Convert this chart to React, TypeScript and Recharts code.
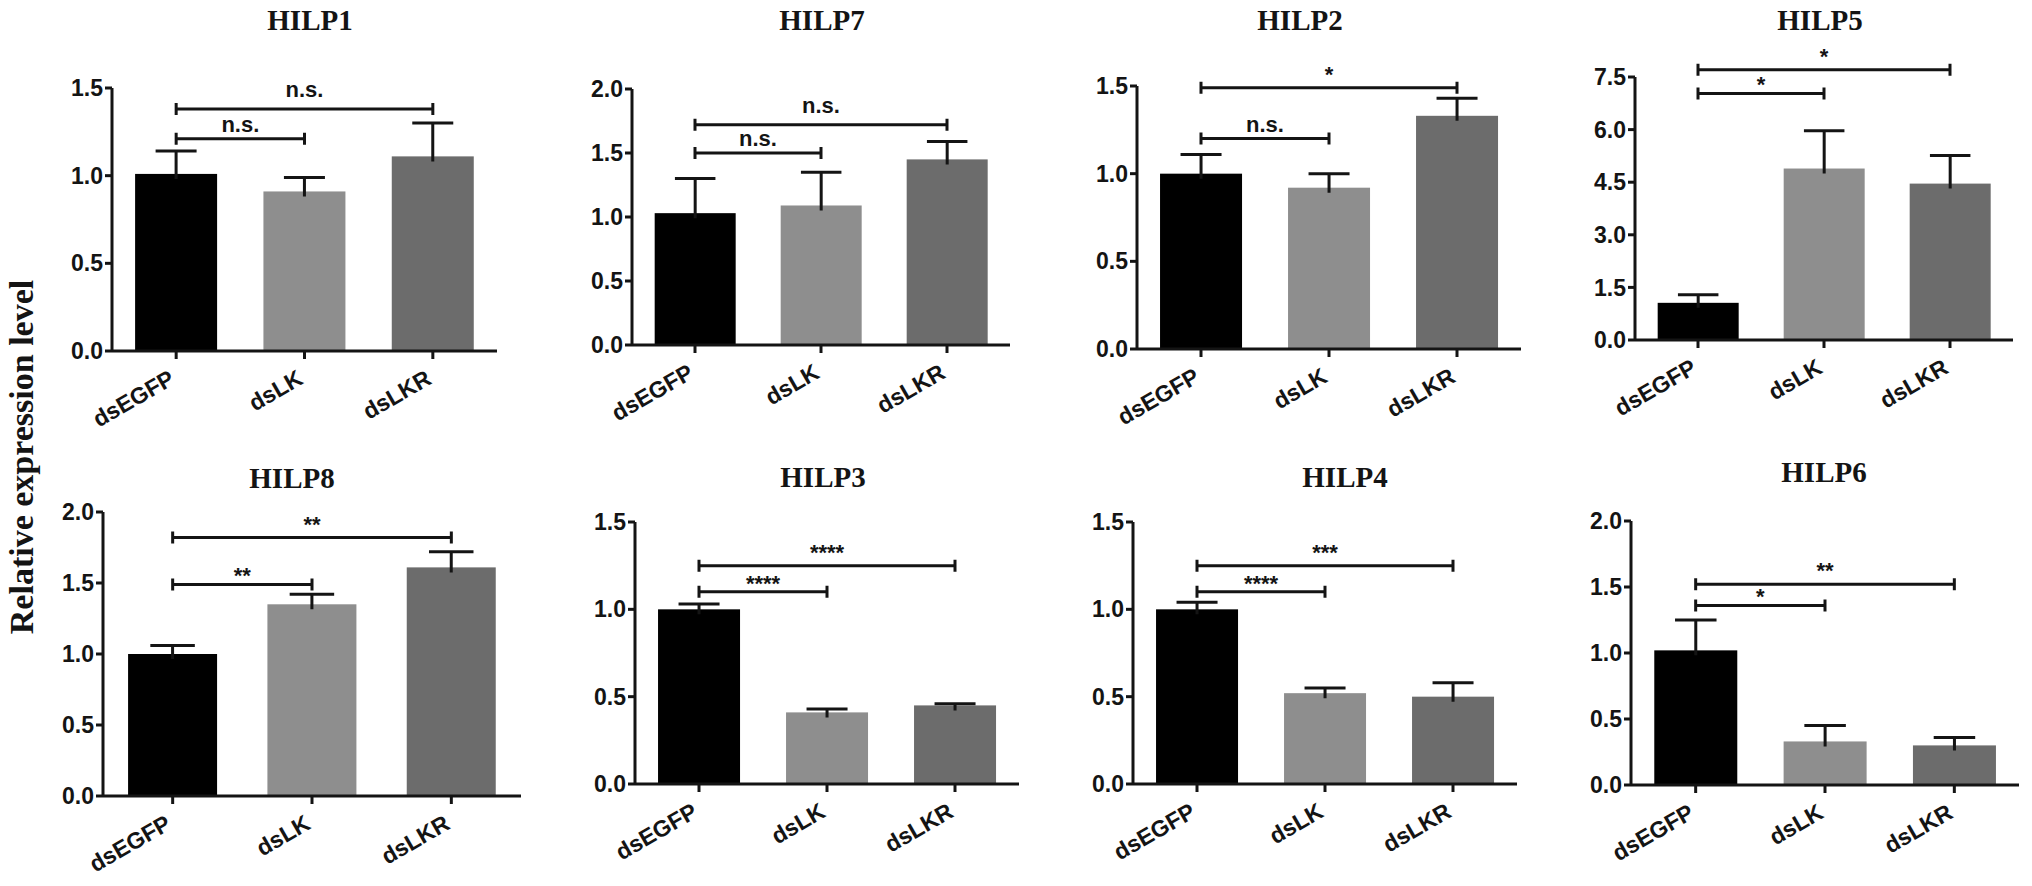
import React from 'react';
import { BarChart, Bar, XAxis, YAxis, ReferenceLine } from 'recharts';

// ---------- data ----------
const CATEGORIES = ['dsEGFP', 'dsLK', 'dsLKR'];
const TITLES = ['HILP1', 'HILP7', 'HILP2', 'HILP5', 'HILP8', 'HILP3', 'HILP4', 'HILP6'];
const Y_LABEL = 'Relative expression level';

const HILP1_MEAN = [1.01, 0.91, 1.11];
const HILP1_SEM = [0.13, 0.08, 0.19];
const HILP7_MEAN = [1.03, 1.09, 1.45];
const HILP7_SEM = [0.27, 0.26, 0.14];
const HILP2_MEAN = [1.0, 0.92, 1.33];
const HILP2_SEM = [0.11, 0.08, 0.1];
const HILP5_MEAN = [1.06, 4.89, 4.46];
const HILP5_SEM = [0.23, 1.08, 0.8];
const HILP8_MEAN = [1.0, 1.35, 1.61];
const HILP8_SEM = [0.06, 0.07, 0.11];
const HILP3_MEAN = [1.0, 0.41, 0.45];
const HILP3_SEM = [0.03, 0.02, 0.01];
const HILP4_MEAN = [1.0, 0.52, 0.5];
const HILP4_SEM = [0.04, 0.03, 0.08];
const HILP6_MEAN = [1.02, 0.33, 0.3];
const HILP6_SEM = [0.23, 0.12, 0.06];

const TICKS_15 = [0, 0.5, 1.0, 1.5];
const TICKS_20 = [0, 0.5, 1.0, 1.5, 2.0];
const TICKS_75 = [0, 1.5, 3.0, 4.5, 6.0, 7.5];

const HILP1_SIG = [
  { from: 'dsEGFP', to: 'dsLK', y: 1.21, label: 'n.s.' },
  { from: 'dsEGFP', to: 'dsLKR', y: 1.38, label: 'n.s.' },
];
const HILP7_SIG = [
  { from: 'dsEGFP', to: 'dsLK', y: 1.5, label: 'n.s.' },
  { from: 'dsEGFP', to: 'dsLKR', y: 1.72, label: 'n.s.' },
];
const HILP2_SIG = [
  { from: 'dsEGFP', to: 'dsLK', y: 1.2, label: 'n.s.' },
  { from: 'dsEGFP', to: 'dsLKR', y: 1.49, label: '*' },
];
const HILP5_SIG = [
  { from: 'dsEGFP', to: 'dsLK', y: 7.03, label: '*' },
  { from: 'dsEGFP', to: 'dsLKR', y: 7.71, label: '*' },
];
const HILP8_SIG = [
  { from: 'dsEGFP', to: 'dsLK', y: 1.49, label: '**' },
  { from: 'dsEGFP', to: 'dsLKR', y: 1.82, label: '**' },
];
const HILP3_SIG = [
  { from: 'dsEGFP', to: 'dsLK', y: 1.1, label: '****' },
  { from: 'dsEGFP', to: 'dsLKR', y: 1.25, label: '****' },
];
const HILP4_SIG = [
  { from: 'dsEGFP', to: 'dsLK', y: 1.1, label: '****' },
  { from: 'dsEGFP', to: 'dsLKR', y: 1.25, label: '***' },
];
const HILP6_SIG = [
  { from: 'dsEGFP', to: 'dsLK', y: 1.36, label: '*' },
  { from: 'dsEGFP', to: 'dsLKR', y: 1.52, label: '**' },
];

const MEANS = [HILP1_MEAN, HILP7_MEAN, HILP2_MEAN, HILP5_MEAN, HILP8_MEAN, HILP3_MEAN, HILP4_MEAN, HILP6_MEAN];
const SEMS = [HILP1_SEM, HILP7_SEM, HILP2_SEM, HILP5_SEM, HILP8_SEM, HILP3_SEM, HILP4_SEM, HILP6_SEM];
const TICKS = [TICKS_15, TICKS_20, TICKS_15, TICKS_75, TICKS_20, TICKS_15, TICKS_15, TICKS_20];
const SIGS = [HILP1_SIG, HILP7_SIG, HILP2_SIG, HILP5_SIG, HILP8_SIG, HILP3_SIG, HILP4_SIG, HILP6_SIG];

// ---------- layout & style ----------
const LAYOUT = [
  { L: 112, R: 497, T: 88, B: 351, tx: 310, ty: 30 },
  { L: 632, R: 1010, T: 89, B: 345, tx: 822, ty: 30 },
  { L: 1137, R: 1521, T: 86, B: 349, tx: 1300, ty: 30 },
  { L: 1635, R: 2013, T: 77, B: 340, tx: 1820, ty: 30 },
  { L: 103, R: 521, T: 512, B: 796, tx: 292, ty: 488 },
  { L: 635, R: 1019, T: 522, B: 784, tx: 823, ty: 487 },
  { L: 1133, R: 1517, T: 522, B: 784, tx: 1345, ty: 487 },
  { L: 1631, R: 2019, T: 521, B: 785, tx: 1824, ty: 482 },
];
const COLORS = ['#000000', '#8e8e8e', '#6c6c6c'];
const INK = '#141414';
const SANS = '"Liberation Sans", Arial, sans-serif';
const SERIF = '"Liberation Serif", "Times New Roman", serif';
const YW = 70;
const MT = 50;
const MR = 10;
const XH = 90;

const BarWithError = (props: any) => {
  const { x, y, width, height, payload, index } = props;
  const mean = payload.mean;
  const px = mean > 0 ? height / mean : 0;
  const top = y - payload.err * px;
  const cx = x + width / 2;
  const cap = width / 4;
  return (
    <g>
      <rect x={x} y={y} width={width} height={height} fill={COLORS[index % COLORS.length]} />
      <path
        d={`M${cx},${y + 5}V${top}M${cx - cap},${top}H${cx + cap}`}
        stroke={INK}
        strokeWidth={3}
        fill="none"
      />
    </g>
  );
};

const makeBracket = (label: string, long: boolean) => (p: any) => {
  const x1 = Number(p.x1);
  const x2 = Number(p.x2);
  const y = Number(p.y1);
  const star = label.indexOf('*') >= 0;
  const off = long ? 18 : 13;
  const base = y - off + (star ? 12 : 6);
  return (
    <g>
      <path
        d={`M${x1},${y - 6}V${y + 6}M${x1},${y}H${x2}M${x2},${y - 6}V${y + 6}`}
        stroke={INK}
        strokeWidth={3}
        fill="none"
      />
      <text x={(x1 + x2) / 2} y={base} textAnchor="middle" fontFamily={SANS} fontWeight={700} fontSize={22} fill={INK}>
        {label}
      </text>
    </g>
  );
};

const XTick = (props: any) => {
  const { x, y, payload } = props;
  const ax = Number(x);
  const ay = Number(y) + 24;
  return (
    <text
      x={ax}
      y={ay}
      transform={`rotate(-30 ${ax} ${ay})`}
      textAnchor="end"
      fontFamily={SANS}
      fontWeight={700}
      fontSize={23}
      fill={INK}
    >
      {payload.value}
    </text>
  );
};

const Panel = ({ i }: { i: number }) => {
  const lay = LAYOUT[i];
  const ticks = TICKS[i];
  const max = ticks[ticks.length - 1];
  const data = CATEGORIES.map((name, k) => ({ name, mean: MEANS[i][k], err: SEMS[i][k] }));
  const w = YW + (lay.R - lay.L) + MR;
  const h = MT + (lay.B - lay.T) + XH;
  return (
    <div style={{ position: 'absolute', left: lay.L - YW, top: lay.T - MT, width: w, height: h }}>
      <BarChart width={w} height={h} data={data} margin={{ top: MT, right: MR, bottom: 0, left: 0 }} barCategoryGap="18%">
        <XAxis
          dataKey="name"
          type="category"
          interval={0}
          height={XH}
          tickSize={8}
          tickMargin={0}
          axisLine={{ stroke: INK, strokeWidth: 3 }}
          tickLine={{ stroke: INK, strokeWidth: 3 }}
          tick={<XTick />}
        />
        <YAxis
          type="number"
          width={YW}
          domain={[0, max]}
          ticks={ticks}
          interval={0}
          tickSize={7}
          tickMargin={2}
          tickFormatter={(v: number) => v.toFixed(1)}
          axisLine={{ stroke: INK, strokeWidth: 3 }}
          tickLine={{ stroke: INK, strokeWidth: 3 }}
          tick={{ fontFamily: SANS, fontWeight: 700, fontSize: 23, fill: INK }}
        />
        <Bar dataKey="mean" isAnimationActive={false} shape={<BarWithError />} />
        {SIGS[i].map((s, k) => (
          <ReferenceLine
            key={k}
            segment={[{ x: s.from, y: s.y }, { x: s.to, y: s.y }]}
            ifOverflow="visible"
            shape={makeBracket(s.label, s.to === 'dsLKR')}
          />
        ))}
      </BarChart>
    </div>
  );
};

export default function App() {
  return (
    <div style={{ position: 'absolute', left: 0, top: 0, width: 2032, height: 886, background: '#ffffff', overflow: 'hidden' }}>
      {TITLES.map((_, i) => (
        <Panel key={i} i={i} />
      ))}
      <svg width={2032} height={886} style={{ position: 'absolute', left: 0, top: 0, pointerEvents: 'none' }}>
        {TITLES.map((t, i) => (
          <text key={t} x={LAYOUT[i].tx} y={LAYOUT[i].ty} textAnchor="middle" fontFamily={SERIF} fontWeight={700} fontSize={29} fill={INK}>
            {t}
          </text>
        ))}
        <text x={33} y={457} transform="rotate(-90 33 457)" textAnchor="middle" fontFamily={SERIF} fontWeight={700} fontSize={34} fill={INK}>
          {Y_LABEL}
        </text>
      </svg>
    </div>
  );
}
